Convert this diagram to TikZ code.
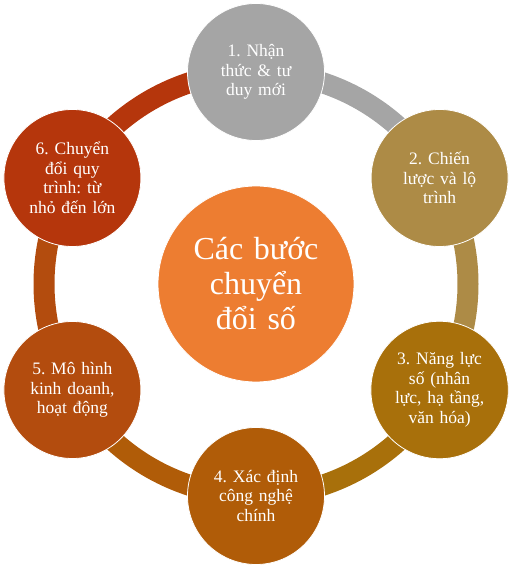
\documentclass[tikz,border=0pt]{standalone}
\usepackage{fontspec}
\setmainfont{Liberation Serif}
\usetikzlibrary{positioning,calc,backgrounds}
\definecolor{cone}{HTML}{A5A5A5}
\definecolor{ctwo}{HTML}{AD8B46}
\definecolor{cthree}{HTML}{A8700B}
\definecolor{cfour}{HTML}{B05C08}
\definecolor{cfive}{HTML}{B34C0E}
\definecolor{csix}{HTML}{B5360C}
\definecolor{cmid}{HTML}{ED7D31}
\frenchspacing

\begin{document}
\begin{tikzpicture}[x=1pt,y=1pt,
    stepdot/.style={circle, draw=white, line width=0.8pt, minimum size=137pt,
      inner sep=0pt, text=white, align=center, text width=116pt,
      font=\fontsize{17.5}{19.5}\selectfont},
    middot/.style={circle, draw=white, line width=0.8pt, minimum size=196pt,
      inner sep=0pt, text=white, align=center, text width=150pt,
      font=\fontsize{32}{35}\selectfont},
    ringarc/.style={line width=21pt}]
    \useasboundingbox (0,0) rectangle (512,570);
    \coordinate (O) at (256,286);

    % steps round the ring
    \node[stepdot, fill=cone]   (s1) at ($(O)+(90:212)$)   {1. Nhận\\thức \& tư\\duy mới};
    \node[stepdot, fill=ctwo]   (s2) at ($(O)+(30:212)$)   {2. Chiến\\lược và lộ\\trình};
    \node[stepdot, fill=cthree] (s3) at ($(O)+(-30:212)$)  {3. Năng lực\\số (nhân\\lực, hạ tầng,\\văn hóa)};
    \node[stepdot, fill=cfour]  (s4) at ($(O)+(-90:212)$)  {4. Xác định\\công nghệ\\chính};
    \node[stepdot, fill=cfive]  (s5) at ($(O)+(-150:212)$) {5. Mô hình\\kinh doanh,\\hoạt động};
    \node[stepdot, fill=csix]   (s6) at ($(O)+(150:212)$)  {6. Chuyển\\đổi quy\\trình: từ\\nhỏ đến lớn};

    \node[middot, fill=cmid] (mid) at (O) {Các bước\\chuyển\\đổi số};

    % ring segments, behind the circles
    \begin{scope}[on background layer]
    \draw[ringarc, cone]   (s1.center) arc[start angle=90,   end angle=30,   radius=212];
    \draw[ringarc, ctwo]   (s2.center) arc[start angle=30,   end angle=-30,  radius=212];
    \draw[ringarc, cthree] (s3.center) arc[start angle=-30,  end angle=-90,  radius=212];
    \draw[ringarc, cfour]  (s4.center) arc[start angle=-90,  end angle=-150, radius=212];
    \draw[ringarc, cfive]  (s5.center) arc[start angle=-150, end angle=-210, radius=212];
    \draw[ringarc, csix]   (s6.center) arc[start angle=150,  end angle=90,   radius=212];
    \end{scope}
\end{tikzpicture}
\end{document}
